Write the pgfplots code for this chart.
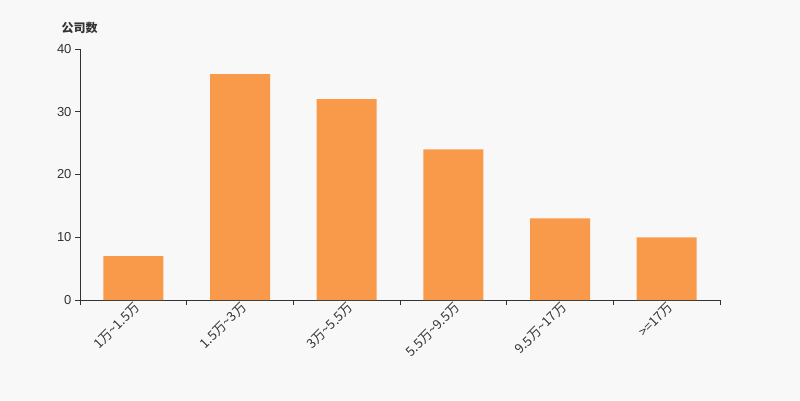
\documentclass[border=0pt]{standalone}
\usepackage{pgfplots}
\pgfplotsset{compat=1.18}
\usepackage{fontspec}
\setmainfont{Liberation Sans}
\newfontfamily\cjk{Noto Sans CJK SC}
\definecolor{bg}{HTML}{F8F8F8}
\definecolor{barc}{HTML}{F89A4A}
\definecolor{txt}{HTML}{333333}
\definecolor{axc}{HTML}{333333}
\begin{document}
\begin{tikzpicture}[x=1pt,y=1pt]
\fill[bg] (0,0) rectangle (800,400);
\path[use as bounding box] (0,0) rectangle (800,400);
\begin{axis}[
  at={(80pt,100pt)}, anchor=south west,
  width=640pt, height=251pt, scale only axis,
  xmin=-0.5, xmax=5.5, ymin=0, ymax=40,
  axis lines*=left,
  axis line style={axc, line width=0.8pt, -},
  xtick={0,1,2,3,4,5},
  xticklabels={1万\textasciitilde1.5万,1.5万\textasciitilde3万,3万\textasciitilde5.5万,5.5万\textasciitilde9.5万,9.5万\textasciitilde17万,>=17万},
  minor xtick={-0.5,0.5,1.5,2.5,3.5,4.5,5.5},
  major x tick style={draw=none},
  minor x tick style={axc, line width=0.8pt},
  ytick={0,10,20,30,40},
  y tick style={axc, line width=0.8pt},
  tick align=outside,
  major tick length=5pt, minor tick length=5pt,
  x tick label style={rotate=45, anchor=east, font=\cjk\fontsize{13}{13}\selectfont, text=txt, inner sep=0pt, xshift=3pt, yshift=-3pt},
  y tick label style={font=\fontsize{13}{13}\selectfont, text=txt},
  /pgf/number format/assume math mode=true,
]
\addplot[ybar, bar width=60pt, fill=barc, draw=none] coordinates {(0,7) (1,36) (2,32) (3,24) (4,13) (5,10)};
\end{axis}
\node[anchor=west, font=\cjk\bfseries\fontsize{12}{12}\selectfont, text=txt] at (58,372) {公司数};
\end{tikzpicture}
\end{document}
